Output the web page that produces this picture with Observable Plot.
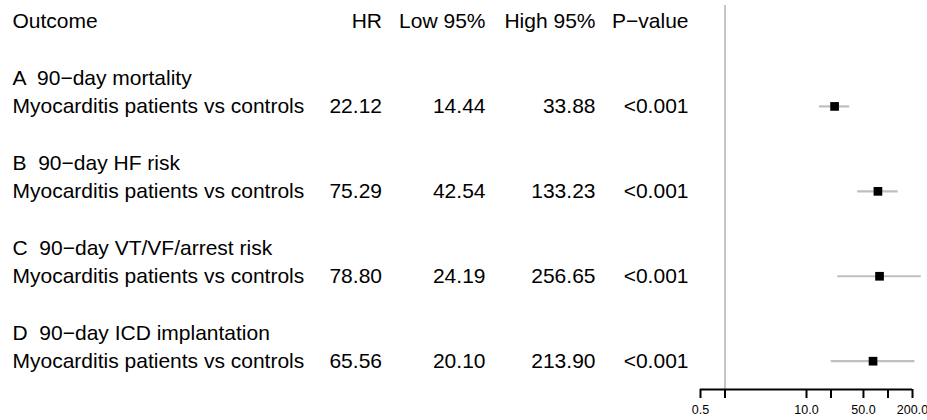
<!DOCTYPE html>
<html>
<head>
<meta charset="utf-8">
<script src="https://cdn.jsdelivr.net/npm/d3@7"></script>
<script src="https://cdn.jsdelivr.net/npm/@observablehq/plot@0.6"></script>
<style>
  html, body { margin: 0; padding: 0; background: #fff; }
  svg { display: block; }
  text { white-space: pre; }
</style>
</head>
<body>
<div id="chart"></div>
<script>
// ---- data ----
const headers = ["Outcome", "HR", "Low 95%", "High 95%", "P\u2212value"];
const outcomes = [
  "A  90\u2212day mortality",
  "B  90\u2212day HF risk",
  "C  90\u2212day VT/VF/arrest risk",
  "D  90\u2212day ICD implantation"
];
const comparisons = [
  "Myocarditis patients vs controls",
  "Myocarditis patients vs controls",
  "Myocarditis patients vs controls",
  "Myocarditis patients vs controls"
];
const hr = [22.12, 75.29, 78.80, 65.56];
const low = [14.44, 42.54, 24.19, 20.10];
const high = [33.88, 133.23, 256.65, 213.90];
const pvalues = ["<0.001", "<0.001", "<0.001", "<0.001"];
const tickValues = [0.5, 1, 10, 20, 50, 100, 200];
const labeledTicks = [0.5, 10, 50, 200];

// ---- derived table ----
const rows = outcomes.map((o, i) => ({
  outcome: o,
  comparison: comparisons[i],
  hr: hr[i], low: low[i], high: high[i], p: pvalues[i],
  titleRow: 2 + 3 * i,
  dataRow: 3 + 3 * i
}));
const headerRow = [{row: 0}];
const axisRow = 13;

const FS = 21;
const font = "Liberation Sans, Arial, Helvetica, sans-serif";
// column positions relative to the left edge of the forest panel
const col = {outcome: -688, hr: -318.5, low: -215, high: -105, p: -12};

const textOpts = (dx, anchor) => ({frameAnchor: "left", dx, textAnchor: anchor, fontSize: FS, fill: "#000"});

const chart = Plot.plot({
  width: 927,
  height: 420,
  marginLeft: 700,
  marginRight: 15,
  marginTop: 5,
  marginBottom: 31,
  style: {fontFamily: font, background: "#fff", color: "#000"},
  x: {type: "log", domain: [0.5, 200]},
  y: {domain: [-0.565, axisRow], reverse: true, axis: null},
  marks: [
    // reference line at HR = 1
    Plot.ruleX([1], {stroke: "#c4c4c4", strokeWidth: 2}),
    // header
    Plot.text(headerRow, {y: "row", text: () => headers[0], ...textOpts(col.outcome, "start")}),
    Plot.text(headerRow, {y: "row", text: () => headers[1], ...textOpts(col.hr, "end")}),
    Plot.text(headerRow, {y: "row", text: () => headers[2], ...textOpts(col.low, "end")}),
    Plot.text(headerRow, {y: "row", text: () => headers[3], ...textOpts(col.high, "end")}),
    Plot.text(headerRow, {y: "row", text: () => headers[4], ...textOpts(col.p, "end")}),
    // group titles
    Plot.text(rows, {y: "titleRow", text: "outcome", ...textOpts(col.outcome, "start")}),
    // data rows
    Plot.text(rows, {y: "dataRow", text: "comparison", ...textOpts(col.outcome, "start")}),
    Plot.text(rows, {y: "dataRow", text: d => d.hr.toFixed(2), ...textOpts(col.hr, "end")}),
    Plot.text(rows, {y: "dataRow", text: d => d.low.toFixed(2), ...textOpts(col.low, "end")}),
    Plot.text(rows, {y: "dataRow", text: d => d.high.toFixed(2), ...textOpts(col.high, "end")}),
    Plot.text(rows, {y: "dataRow", text: "p", ...textOpts(col.p, "end")}),
    // confidence intervals
    Plot.ruleY(rows, {y: "dataRow", x1: "low", x2: "high", stroke: "#bfbfbf", strokeWidth: 2.2}),
    // point estimates
    Plot.dot(rows, {y: "dataRow", x: "hr", symbol: "square", r: 4.9, fill: "#000", stroke: null}),
    // x axis line
    Plot.ruleY([axisRow], {x1: tickValues[0], x2: tickValues[tickValues.length - 1], stroke: "#000", strokeWidth: 2}),
    // x axis ticks
    Plot.axisX({
      ticks: tickValues,
      tickFormat: () => "",
      tickSize: 9,
      strokeWidth: 2,
      label: null,
      anchor: "bottom",
      color: "#000"
    }),
    // x axis tick labels
    Plot.text(labeledTicks, {
      x: d => d,
      frameAnchor: "bottom",
      dy: 24,
      text: d3.format(".1f"),
      fontSize: 12.5,
      fill: "#000"
    })
  ]
});
document.getElementById("chart").appendChild(chart);
</script>
</body>
</html>
